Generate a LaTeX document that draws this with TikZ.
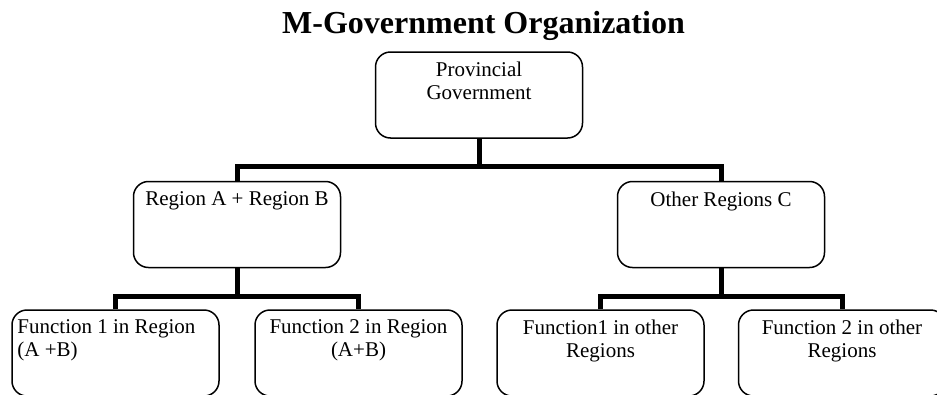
\documentclass[tikz,border=0pt]{standalone}
\usepackage{fontspec}
\setmainfont{Liberation Serif}
\begin{document}
\begin{tikzpicture}[x=1pt,y=-1pt,
  box/.style={draw, line width=1.5pt, rounded corners=15pt, minimum width=207pt, minimum height=86pt, inner sep=0pt},
  lbl/.style={anchor=north, inner sep=0pt, font=\fontsize{21}{23}\selectfont, align=center},
  conn/.style={line width=5pt, line join=miter}]
\useasboundingbox (0,0) rectangle (937,394);
\node[font=\fontsize{32}{36}\selectfont\bfseries, anchor=base, inner sep=0pt] (title) at (483.5,33) {M-Government Organization};
\node[box] (p) at (479,95) {};
\node[box] (ra) at (237,224.5) {};
\node[box] (rc) at (721,224.5) {};
\node[box] (f1) at (115.5,353) {};
\node[box] (f2) at (358.5,353) {};
\node[box] (f3) at (600.5,353) {};
\node[box] (f4) at (842,353) {};
\node[lbl] (tp) at ([yshift=-10.5pt]p.north) {Provincial\\Government};
\node[lbl] (tra) at ([yshift=-10.5pt]ra.north) {Region A + Region B};
\node[lbl] (trc) at ([yshift=-10.5pt]rc.north) {Other Regions C};
\node[lbl, anchor=north west, align=left] (tf1) at ([xshift=6pt,yshift=-10.5pt]f1.north west) {Function 1 in Region\\(A +B)};
\node[lbl] (tf2) at ([yshift=-10.5pt]f2.north) {Function 2 in Region\\(A+B)};
\node[lbl] (tf3) at ([yshift=-10.5pt]f3.north) {Function1 in other\\Regions};
\node[lbl] (tf4) at ([yshift=-10.5pt]f4.north) {Function 2 in other\\Regions};
\draw[conn] (p.south) -- ++(0,28) coordinate (pj);
\draw[conn] (ra.north) -- (ra.north |- pj) -- (rc.north |- pj) -- (rc.north);
\draw[conn] (ra.south) -- ++(0,28) coordinate (aj);
\draw[conn] (f1.north) -- (f1.north |- aj) -- (f2.north |- aj) -- (f2.north);
\draw[conn] (rc.south) -- ++(0,28) coordinate (cj);
\draw[conn] (f3.north) -- (f3.north |- cj) -- (f4.north |- cj) -- (f4.north);
\end{tikzpicture}
\end{document}
